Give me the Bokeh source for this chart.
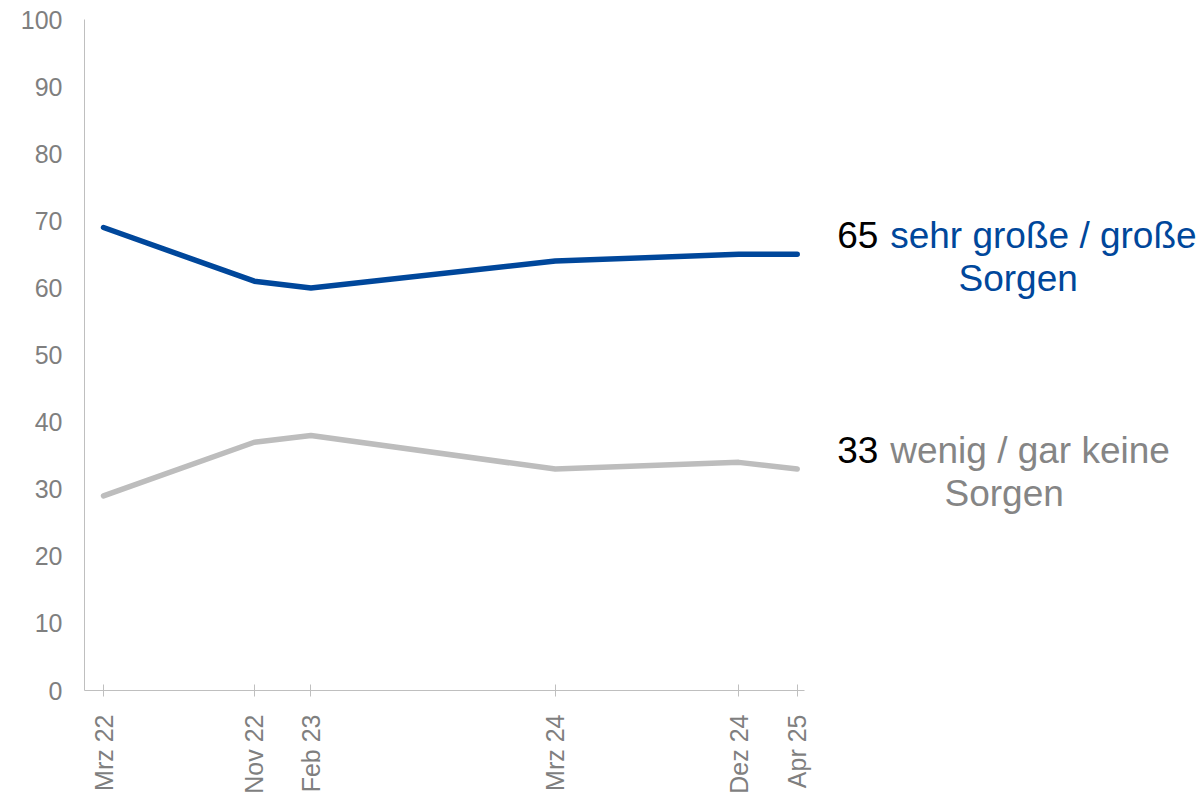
import pandas as pd
from bokeh.plotting import figure
from bokeh.models import Range1d, FixedTicker, Label
from bokeh.embed import file_html
from bokeh.resources import INLINE
from math import pi

# ---- data ----
survey_dates = ["2022-03-01", "2022-11-01", "2023-02-01", "2024-03-04", "2024-12-27", "2025-04-01"]
tick_labels = ["Mrz 22", "Nov 22", "Feb 23", "Mrz 24", "Dez 24", "Apr 25"]
grosse_sorgen = [69, 61, 60, 64, 65, 65]
wenig_sorgen = [29, 37, 38, 33, 34, 33]
series_names = ["sehr große / große", "wenig / gar keine"]
y_ticks = list(range(0, 101, 10))

BLUE = "#00479b"
GRAY_LINE = "#bdbdbd"
GRAY_TEXT = "#858585"
AXIS_TEXT = "#7f7f7f"
AXIS_LINE = "#bfbfbf"
FONT = "Liberation Sans"

d = pd.to_datetime(survey_dates)
days = [float((t - d[0]).days) for t in d]

p = figure(width=1203, height=796, output_backend="svg", toolbar_location=None,
           x_range=Range1d(-30.9, 1787.1), y_range=Range1d(0, 100),
           min_border_left=84, min_border_top=19, min_border_bottom=103, min_border_right=0)
p.outline_line_color = None
p.xgrid.grid_line_color = None
p.ygrid.grid_line_color = None
p.background_fill_color = "white"
p.border_fill_color = "white"

p.line(days, grosse_sorgen, line_color=BLUE, line_width=5.5, line_cap="round", line_join="round")
p.line(days, wenig_sorgen, line_color=GRAY_LINE, line_width=5.5, line_cap="round", line_join="round")

# x axis
xa = p.xaxis[0]
xa.ticker = FixedTicker(ticks=days)
xa.major_label_overrides = {dv: lab for dv, lab in zip(days, tick_labels)}
xa.major_label_orientation = pi / 2
xa.bounds = (-30.9, 1139.0)
xa.axis_line_color = AXIS_LINE
xa.major_tick_line_color = AXIS_LINE
xa.major_tick_in = 6
xa.major_tick_out = 6
xa.minor_tick_line_color = None
xa.major_label_standoff = 18
xa.major_label_text_font = FONT
xa.major_label_text_font_size = "25px"
xa.major_label_text_color = AXIS_TEXT

# y axis
ya = p.yaxis[0]
ya.ticker = FixedTicker(ticks=y_ticks)
ya.bounds = (0, 100)
ya.axis_line_color = AXIS_LINE
ya.major_tick_line_color = None
ya.minor_tick_line_color = None
ya.major_tick_out = 0
ya.major_tick_in = 0
ya.major_label_standoff = 22
ya.major_label_text_font = FONT
ya.major_label_text_font_size = "25px"
ya.major_label_text_color = AXIS_TEXT

# end labels
label_specs = [
    (grosse_sorgen[-1], series_names[0], BLUE, 93, 221),
    (wenig_sorgen[-1], series_names[1], GRAY_TEXT, 93, 207),
]
for val, name, col, name_off, center_off in label_specs:
    p.add_layout(Label(x=days[-1], y=val, x_offset=40, y_offset=19, text=str(val),
                       text_font=FONT, text_font_size="37px", text_color="black",
                       text_align="left", text_baseline="alphabetic"))
    p.add_layout(Label(x=days[-1], y=val, x_offset=name_off, y_offset=19, text=name,
                       text_font=FONT, text_font_size="37px", text_color=col,
                       text_align="left", text_baseline="alphabetic"))
    p.add_layout(Label(x=days[-1], y=val, x_offset=center_off, y_offset=-24, text="Sorgen",
                       text_font=FONT, text_font_size="37px", text_color=col,
                       text_align="center", text_baseline="alphabetic"))

open("out.html", "w").write(file_html(p, INLINE))
